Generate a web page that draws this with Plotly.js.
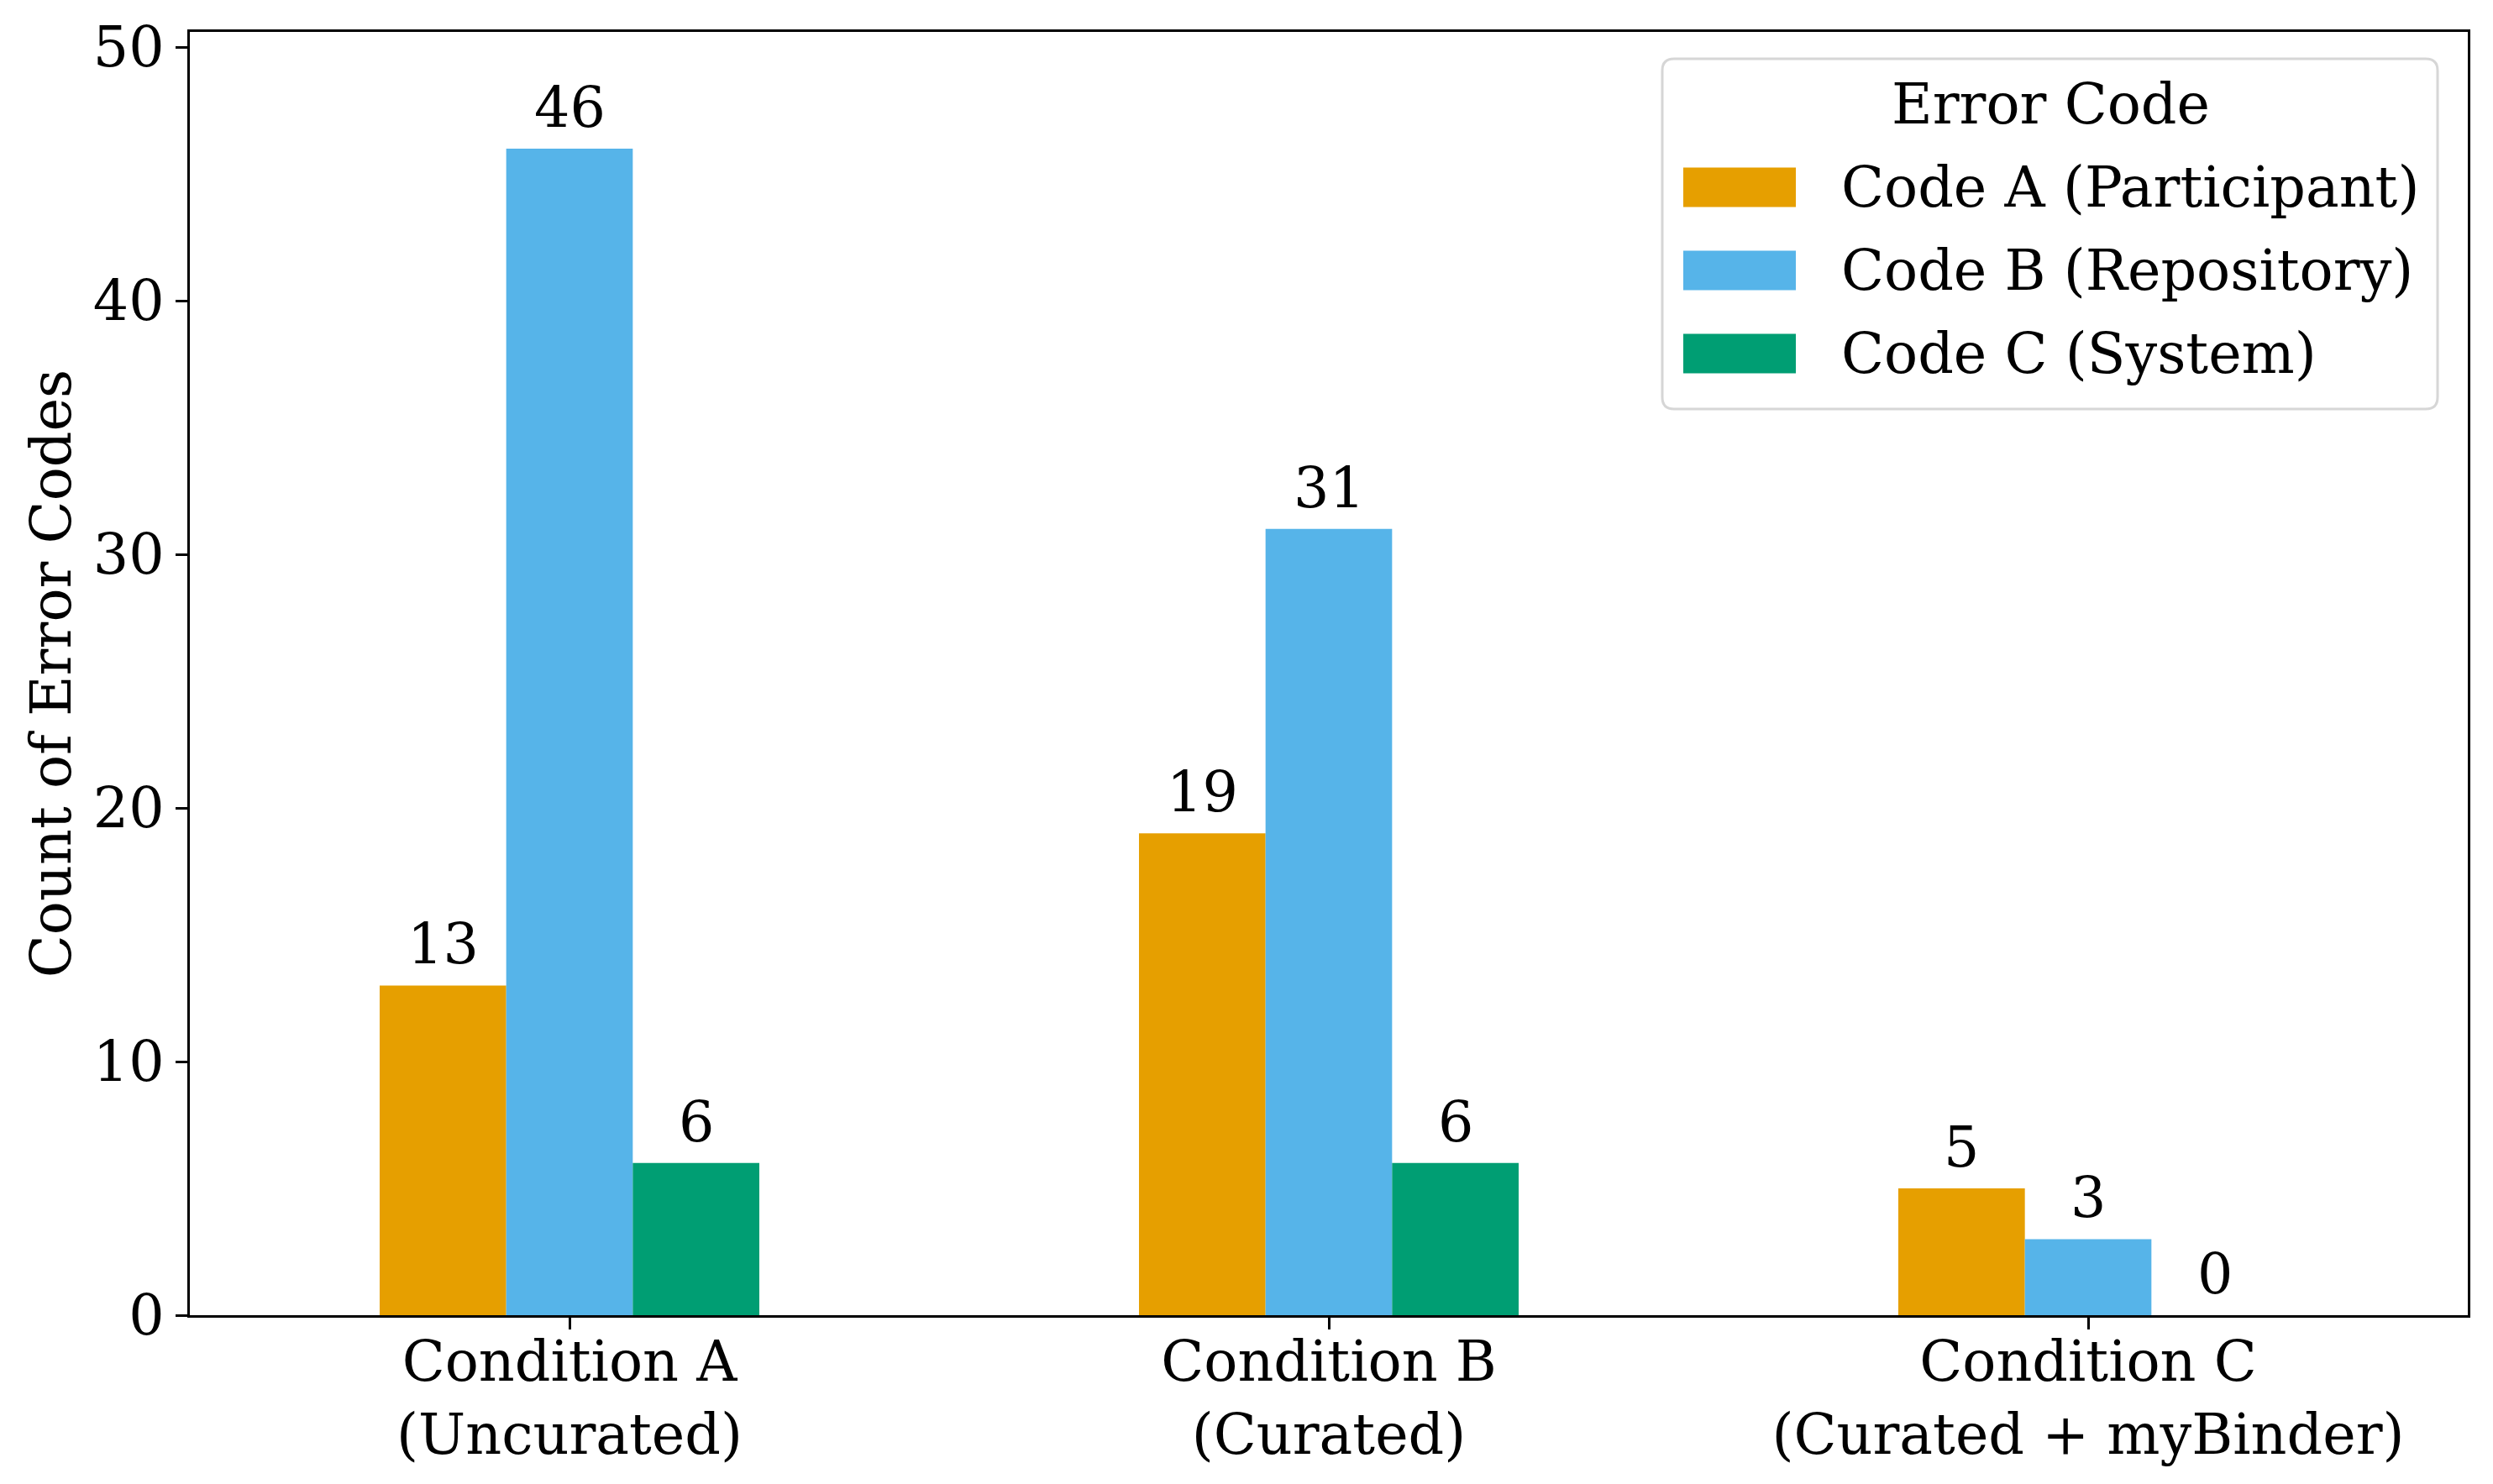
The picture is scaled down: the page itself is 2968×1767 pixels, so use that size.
<!DOCTYPE html>
<html>
<head>
<meta charset="utf-8">
<script src="https://cdn.plot.ly/plotly-3.0.1.min.js"></script>
<style>html,body{margin:0;padding:0;background:#fff;}#chart{width:2968px;height:1767px;}</style>
</head>
<body>
<div id="chart"></div>
<script>
// ---- data ----
const categories = ["Condition A<br>(Uncurated)", "Condition B<br>(Curated)", "Condition C<br>(Curated + myBinder)"];
const seriesNames = ["Code A (Participant)", "Code B (Repository)", "Code C (System)"];
const codeA = [13, 19, 5];
const codeB = [46, 31, 3];
const codeC = [6, 6, 0];
const colors = ["#E69F00", "#56B4E9", "#009E73"];
const legendTitle = "Error Code";
const yTitle = "Count of Error Codes";
const yTicks = [0, 10, 20, 30, 40, 50];

// ---- layout constants ----
const W = 2968, H = 1767;
const FS = 66.7;
const FONT = "DejaVu Serif";
const M = {l: 226, r: 30, t: 38, b: 201};
const PW = W - M.l - M.r, PH = H - M.t - M.b;
const px2x = X => (X - M.l) / PW;
const px2y = Y => (H - M.b - Y) / PH;

const series = [codeA, codeB, codeC];
const xIdx = categories.map((_, i) => i);
const nS = series.length;
const groupWidth = 0.5;
const barW = groupWidth / nS;

const traces = series.map((vals, j) => ({
  type: "bar",
  x: xIdx,
  y: vals,
  name: seriesNames[j],
  marker: {color: colors[j], line: {width: 0}},
  showlegend: false,
  hoverinfo: "skip"
}));

const annotations = [];
series.forEach((vals, j) => {
  vals.forEach((v, i) => {
    annotations.push({
      x: i + (j - (nS - 1) / 2) * barW,
      y: v,
      xref: "x", yref: "y",
      text: String(v),
      showarrow: false,
      xanchor: "center", yanchor: "bottom",
      yshift: 8,
      font: {family: FONT, size: FS, color: "#000"}
    });
  });
});

// ---- custom legend (layout, in paper coords) ----
const shapes = [];
const LB = {x0: 1979, x1: 2902, y0: 70, y1: 487, r: 14};
(function () {
  const x0 = px2x(LB.x0), x1 = px2x(LB.x1), yT = px2y(LB.y0), yB = px2y(LB.y1);
  const rx = LB.r / PW, ry = LB.r / PH;
  const p = `M ${x0 + rx} ${yT} L ${x1 - rx} ${yT} Q ${x1} ${yT} ${x1} ${yT - ry} L ${x1} ${yB + ry} Q ${x1} ${yB} ${x1 - rx} ${yB} L ${x0 + rx} ${yB} Q ${x0} ${yB} ${x0} ${yB + ry} L ${x0} ${yT - ry} Q ${x0} ${yT} ${x0 + rx} ${yT} Z`;
  shapes.push({type: "path", xref: "paper", yref: "paper", path: p,
    fillcolor: "rgba(255,255,255,0.8)", line: {color: "#d6d6d6", width: 3}, layer: "above"});
})();
annotations.push({
  xref: "paper", yref: "paper", x: px2x(2441), y: px2y(124),
  text: legendTitle, showarrow: false, xanchor: "center", yanchor: "middle",
  font: {family: FONT, size: FS, color: "#000"}
});
const itemCenters = [223, 322, 421];
seriesNames.forEach((nm, j) => {
  const cy = itemCenters[j];
  shapes.push({type: "rect", xref: "paper", yref: "paper",
    x0: px2x(2004), x1: px2x(2138), y0: px2y(cy - 23.5), y1: px2y(cy + 23.5),
    fillcolor: colors[j], line: {width: 0}, layer: "above"});
  annotations.push({
    xref: "paper", yref: "paper", x: px2x(2190), y: px2y(cy),
    text: nm, showarrow: false, xanchor: "left", yanchor: "middle",
    font: {family: FONT, size: FS, color: "#000"}
  });
});

const layout = {
  width: W, height: H,
  margin: M,
  paper_bgcolor: "#fff", plot_bgcolor: "#fff",
  font: {family: FONT, size: FS, color: "#000"},
  barmode: "group",
  bargap: 1 - groupWidth,
  bargroupgap: 0,
  showlegend: false,
  xaxis: {
    range: [-0.5, 2.5],
    tickmode: "array", tickvals: xIdx, ticktext: categories,
    ticks: "outside", ticklen: 14, tickwidth: 3, tickcolor: "#000",
    ticklabelstandoff: -19,
    showline: true, linecolor: "#000", linewidth: 3, mirror: true,
    showgrid: false, zeroline: false,
    tickfont: {family: FONT, size: FS, color: "#000"},
    automargin: false
  },
  yaxis: {
    range: [0, 50.6],
    tickmode: "array", tickvals: yTicks, ticktext: yTicks.map(String),
    ticks: "outside", ticklen: 14, tickwidth: 3, tickcolor: "#000",
    showline: true, linecolor: "#000", linewidth: 3, mirror: true,
    showgrid: false, zeroline: false,
    tickfont: {family: FONT, size: FS, color: "#000"},
    title: {text: yTitle, font: {family: FONT, size: FS, color: "#000"}, standoff: 5},
    automargin: false
  },
  shapes: shapes,
  annotations: annotations
};

Plotly.newPlot("chart", traces, layout, {staticPlot: true, displayModeBar: false});
</script>
</body>
</html>
